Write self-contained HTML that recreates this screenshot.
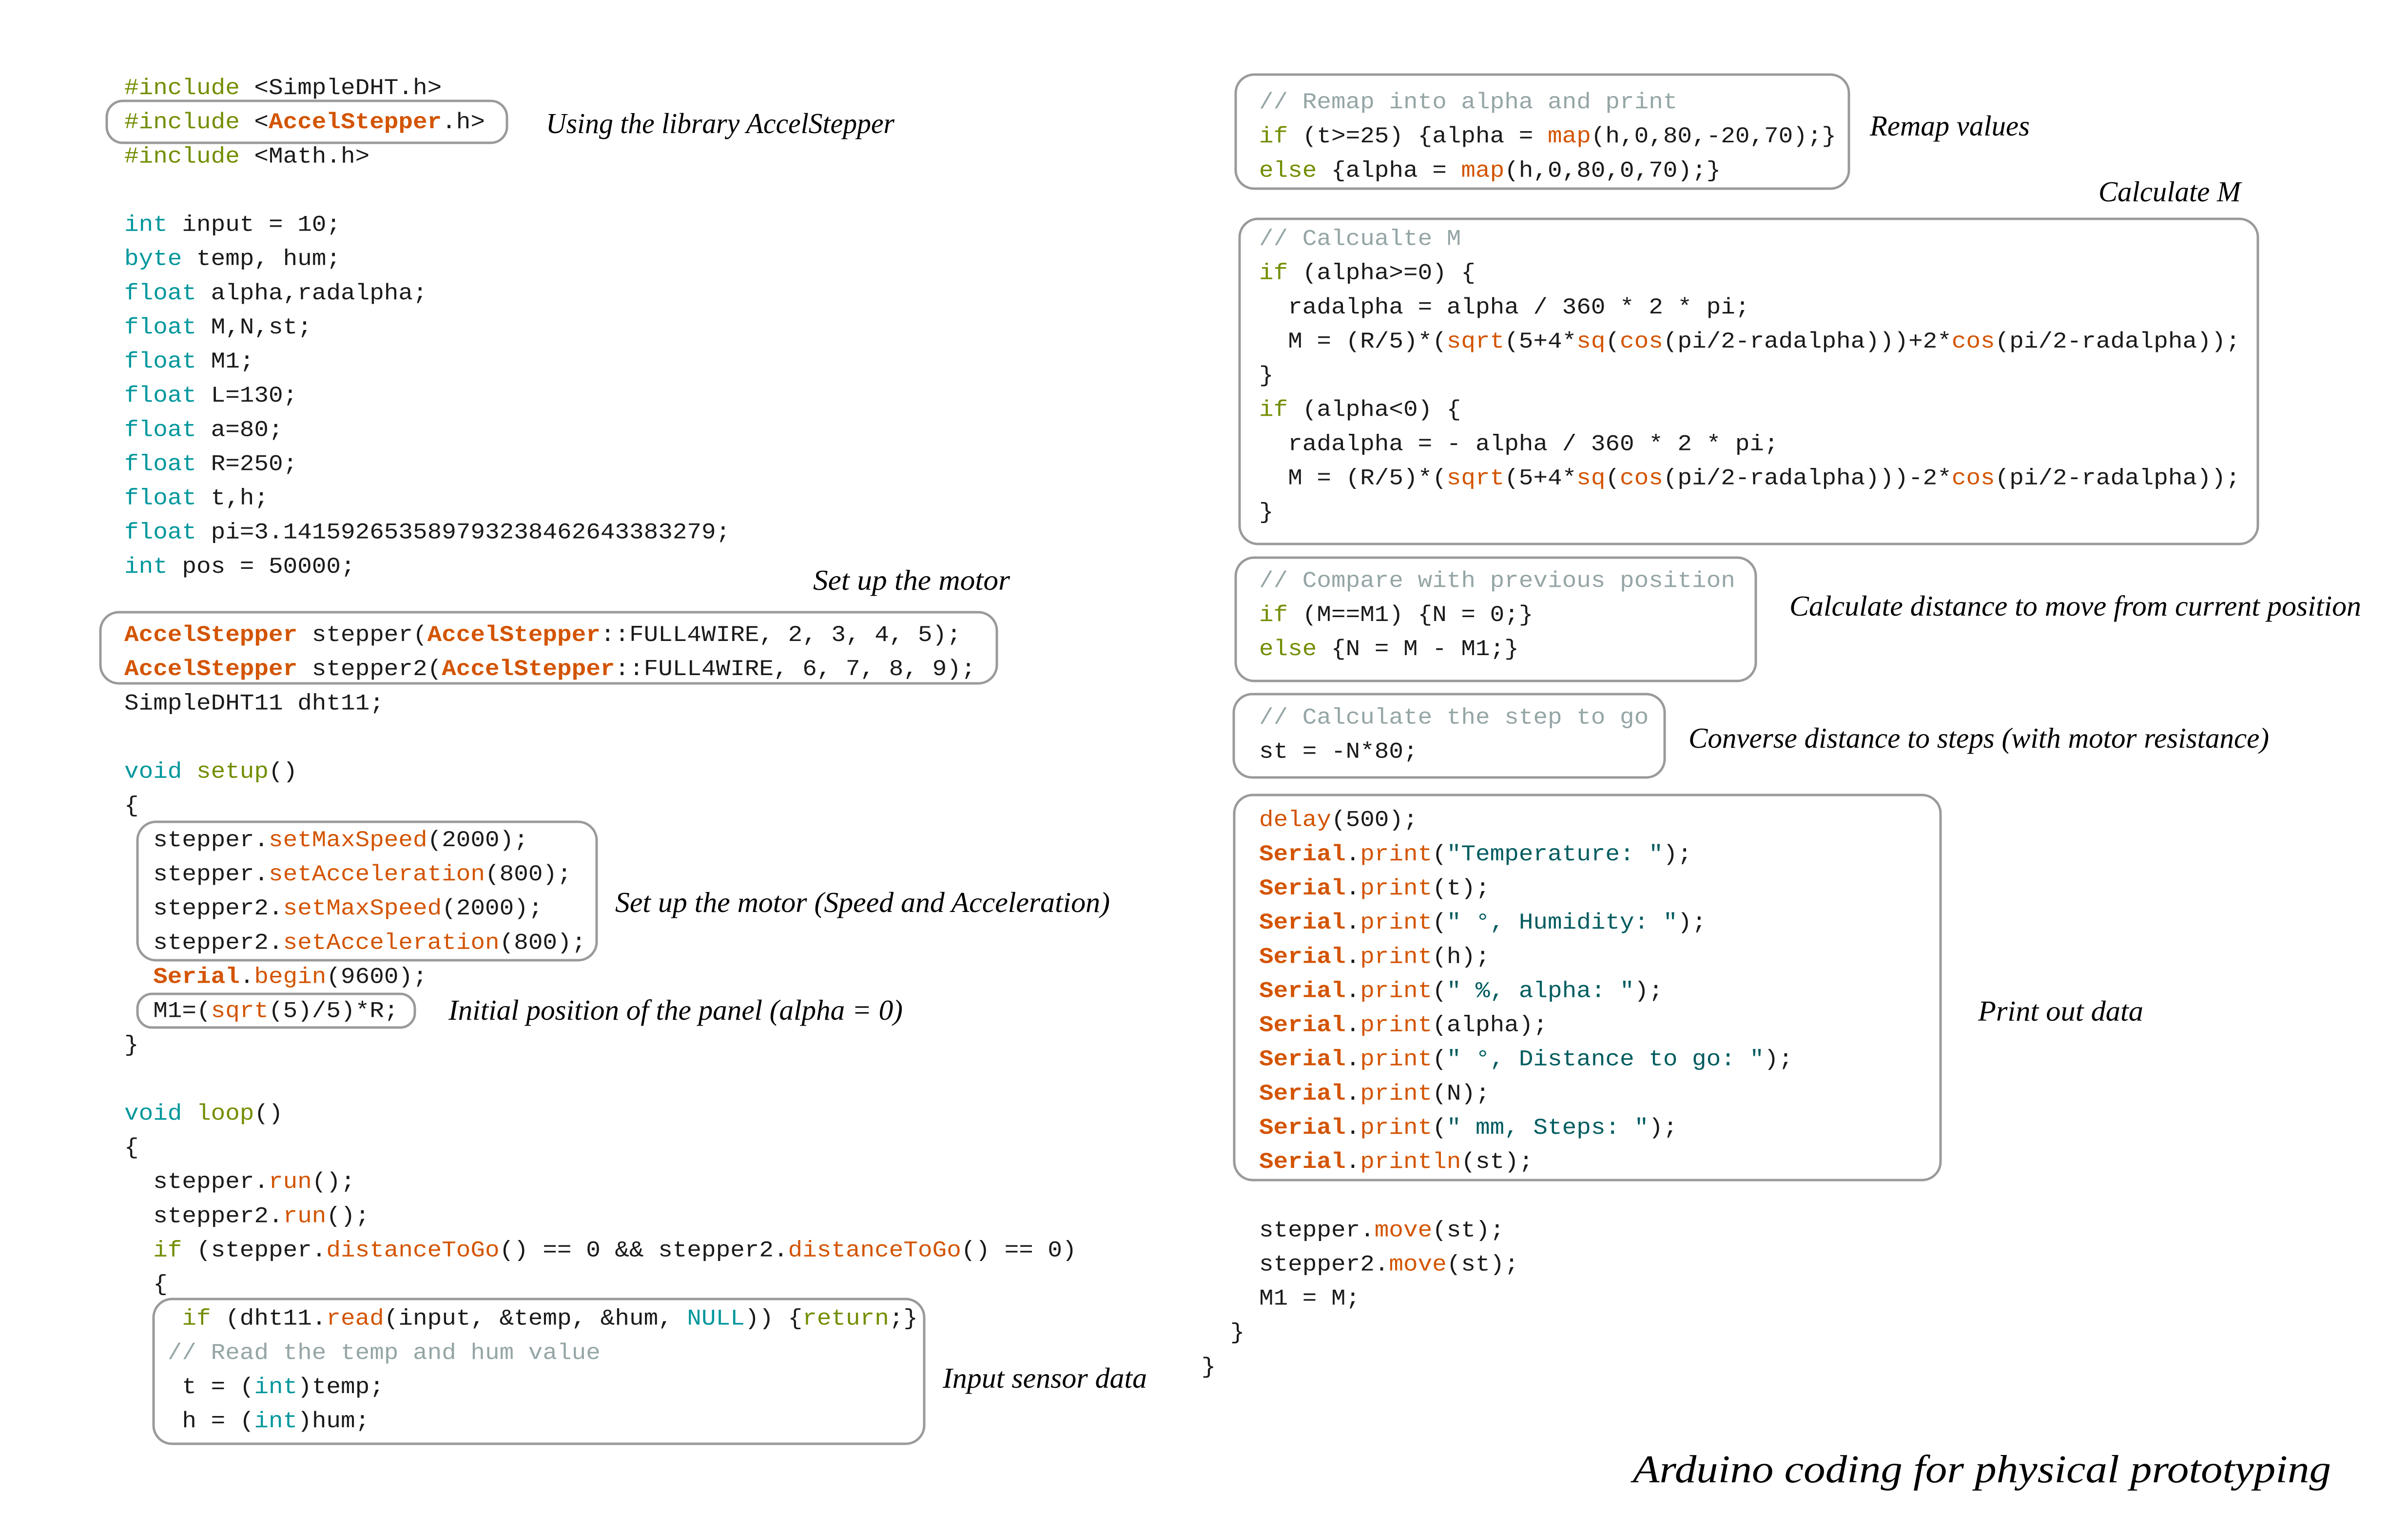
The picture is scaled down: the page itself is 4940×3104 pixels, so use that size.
<!DOCTYPE html>
<html>
<head>
<meta charset="utf-8">
<style>
  html, body { margin:0; padding:0; background:#ffffff; }
  body { width:4940px; height:3104px; overflow:hidden; position:relative; }
  svg { position:absolute; left:0; top:0; }
  text { white-space: pre; }
  .c { font-family: "Liberation Mono", "Courier New", monospace; font-size:46px; fill:#1a1a1a; }
  .o { fill:#728E00; }
  .t { fill:#00979C; }
  .r { fill:#D35400; }
  .b { fill:#D35400; font-weight:bold; }
  .g { fill:#95A5A6; }
  .s { fill:#005C5F; }
  .lab { font-family: "Liberation Serif", serif; font-style: italic; font-size:59px; fill:#000000; }
  .ttl { font-family: "Liberation Serif", serif; font-style: italic; font-size:81px; fill:#000000; }
  .box { fill:none; stroke:#9a9a9a; stroke-width:5; }
</style>
</head>
<body>
<svg width="4940" height="3104" viewBox="0 0 4940 3104" xmlns="http://www.w3.org/2000/svg" xml:space="preserve">
<rect x="0" y="0" width="4940" height="3104" fill="#ffffff"/>

<!-- Boxes -->
<rect class="box" x="219" y="207" width="821" height="86" rx="33" ry="33"/>
<rect class="box" x="206" y="1256" width="1839" height="146" rx="38" ry="38"/>
<rect class="box" x="282" y="1686" width="942" height="284" rx="38" ry="38"/>
<rect class="box" x="282" y="2039" width="569" height="69" rx="30" ry="30"/>
<rect class="box" x="315" y="2665" width="1581" height="297" rx="38" ry="38"/>
<rect class="box" x="2535" y="153" width="1258" height="234" rx="38" ry="38"/>
<rect class="box" x="2543" y="449" width="2089" height="667" rx="38" ry="38"/>
<rect class="box" x="2535" y="1144" width="1067" height="253" rx="38" ry="38"/>
<rect class="box" x="2531" y="1424" width="884" height="171" rx="38" ry="38"/>
<rect class="box" x="2532" y="1631" width="1449" height="790" rx="38" ry="38"/>

<!-- Left column code -->
<g class="c" transform="translate(255 0) scale(1.0725 1)">
<text x="0" y="193"><tspan class="o">#include</tspan> &lt;SimpleDHT.h&gt;</text>
<text x="0" y="263.1"><tspan class="o">#include</tspan> &lt;<tspan class="b">AccelStepper</tspan>.h&gt;</text>
<text x="0" y="333.3"><tspan class="o">#include</tspan> &lt;Math.h&gt;</text>
<text x="0" y="473.5"><tspan class="t">int</tspan> input = 10;</text>
<text x="0" y="543.7"><tspan class="t">byte</tspan> temp, hum;</text>
<text x="0" y="613.8"><tspan class="t">float</tspan> alpha,radalpha;</text>
<text x="0" y="683.9"><tspan class="t">float</tspan> M,N,st;</text>
<text x="0" y="754"><tspan class="t">float</tspan> M1;</text>
<text x="0" y="824.2"><tspan class="t">float</tspan> L=130;</text>
<text x="0" y="894.3"><tspan class="t">float</tspan> a=80;</text>
<text x="0" y="964.4"><tspan class="t">float</tspan> R=250;</text>
<text x="0" y="1034.6"><tspan class="t">float</tspan> t,h;</text>
<text x="0" y="1104.7"><tspan class="t">float</tspan> pi=3.141592653589793238462643383279;</text>
<text x="0" y="1174.8"><tspan class="t">int</tspan> pos = 50000;</text>
<text x="0" y="1315.1"><tspan class="b">AccelStepper</tspan> stepper(<tspan class="b">AccelStepper</tspan>::FULL4WIRE, 2, 3, 4, 5);</text>
<text x="0" y="1385.2"><tspan class="b">AccelStepper</tspan> stepper2(<tspan class="b">AccelStepper</tspan>::FULL4WIRE, 6, 7, 8, 9);</text>
<text x="0" y="1455.3">SimpleDHT11 dht11;</text>
<text x="0" y="1595.6"><tspan class="t">void</tspan> <tspan class="o">setup</tspan>()</text>
<text x="0" y="1665.7">{</text>
<text x="0" y="1735.9">  stepper.<tspan class="r">setMaxSpeed</tspan>(2000);</text>
<text x="0" y="1806">  stepper.<tspan class="r">setAcceleration</tspan>(800);</text>
<text x="0" y="1876.1">  stepper2.<tspan class="r">setMaxSpeed</tspan>(2000);</text>
<text x="0" y="1946.3">  stepper2.<tspan class="r">setAcceleration</tspan>(800);</text>
<text x="0" y="2016.4">  <tspan class="b">Serial</tspan>.<tspan class="r">begin</tspan>(9600);</text>
<text x="0" y="2086.5">  M1=(<tspan class="r">sqrt</tspan>(5)/5)*R;</text>
<text x="0" y="2156.6">}</text>
<text x="0" y="2296.9"><tspan class="t">void</tspan> <tspan class="o">loop</tspan>()</text>
<text x="0" y="2367">{</text>
<text x="0" y="2437.2">  stepper.<tspan class="r">run</tspan>();</text>
<text x="0" y="2507.3">  stepper2.<tspan class="r">run</tspan>();</text>
<text x="0" y="2577.4">  <tspan class="o">if</tspan> (stepper.<tspan class="r">distanceToGo</tspan>() == 0 &amp;&amp; stepper2.<tspan class="r">distanceToGo</tspan>() == 0)</text>
<text x="0" y="2647.6">  {</text>
<text x="0" y="2717.7">    <tspan class="o">if</tspan> (dht11.<tspan class="r">read</tspan>(input, &amp;temp, &amp;hum, <tspan class="t">NULL</tspan>)) {<tspan class="o">return</tspan>;}</text>
<text x="0" y="2787.8">   <tspan class="g">// Read the temp and hum value</tspan></text>
<text x="0" y="2858">    t = (<tspan class="t">int</tspan>)temp;</text>
<text x="0" y="2928.1">    h = (<tspan class="t">int</tspan>)hum;</text>
</g>

<!-- Right column code -->
<g class="c" transform="translate(2583 0) scale(1.0725 1)">
<text x="0" y="222"><tspan class="g">// Remap into alpha and print</tspan></text>
<text x="0" y="292.1"><tspan class="o">if</tspan> (t&gt;=25) {alpha = <tspan class="r">map</tspan>(h,0,80,-20,70);}</text>
<text x="0" y="362.3"><tspan class="o">else</tspan> {alpha = <tspan class="r">map</tspan>(h,0,80,0,70);}</text>
<text x="0" y="502.5"><tspan class="g">// Calcualte M</tspan></text>
<text x="0" y="572.7"><tspan class="o">if</tspan> (alpha&gt;=0) {</text>
<text x="0" y="642.8">  radalpha = alpha / 360 * 2 * pi;</text>
<text x="0" y="712.9">  M = (R/5)*(<tspan class="r">sqrt</tspan>(5+4*<tspan class="r">sq</tspan>(<tspan class="r">cos</tspan>(pi/2-radalpha)))+2*<tspan class="r">cos</tspan>(pi/2-radalpha));</text>
<text x="0" y="783">}</text>
<text x="0" y="853.2"><tspan class="o">if</tspan> (alpha&lt;0) {</text>
<text x="0" y="923.3">  radalpha = - alpha / 360 * 2 * pi;</text>
<text x="0" y="993.4">  M = (R/5)*(<tspan class="r">sqrt</tspan>(5+4*<tspan class="r">sq</tspan>(<tspan class="r">cos</tspan>(pi/2-radalpha)))-2*<tspan class="r">cos</tspan>(pi/2-radalpha));</text>
<text x="0" y="1063.6">}</text>
<text x="0" y="1203.8"><tspan class="g">// Compare with previous position</tspan></text>
<text x="0" y="1274"><tspan class="o">if</tspan> (M==M1) {N = 0;}</text>
<text x="0" y="1344.1"><tspan class="o">else</tspan> {N = M - M1;}</text>
<text x="0" y="1484.3"><tspan class="g">// Calculate the step to go</tspan></text>
<text x="0" y="1554.5">st = -N*80;</text>
<text x="0" y="1694.7"><tspan class="r">delay</tspan>(500);</text>
<text x="0" y="1764.9"><tspan class="b">Serial</tspan>.<tspan class="r">print</tspan>(<tspan class="s">"Temperature: "</tspan>);</text>
<text x="0" y="1835"><tspan class="b">Serial</tspan>.<tspan class="r">print</tspan>(t);</text>
<text x="0" y="1905.1"><tspan class="b">Serial</tspan>.<tspan class="r">print</tspan>(<tspan class="s">" °, Humidity: "</tspan>);</text>
<text x="0" y="1975.3"><tspan class="b">Serial</tspan>.<tspan class="r">print</tspan>(h);</text>
<text x="0" y="2045.4"><tspan class="b">Serial</tspan>.<tspan class="r">print</tspan>(<tspan class="s">" %, alpha: "</tspan>);</text>
<text x="0" y="2115.5"><tspan class="b">Serial</tspan>.<tspan class="r">print</tspan>(alpha);</text>
<text x="0" y="2185.6"><tspan class="b">Serial</tspan>.<tspan class="r">print</tspan>(<tspan class="s">" °, Distance to go: "</tspan>);</text>
<text x="0" y="2255.8"><tspan class="b">Serial</tspan>.<tspan class="r">print</tspan>(N);</text>
<text x="0" y="2325.9"><tspan class="b">Serial</tspan>.<tspan class="r">print</tspan>(<tspan class="s">" mm, Steps: "</tspan>);</text>
<text x="0" y="2396"><tspan class="b">Serial</tspan>.<tspan class="r">println</tspan>(st);</text>
<text x="0" y="2536.3">stepper.<tspan class="r">move</tspan>(st);</text>
<text x="0" y="2606.4">stepper2.<tspan class="r">move</tspan>(st);</text>
<text x="0" y="2676.6">M1 = M;</text>
<text x="-55.2" y="2746.7">}</text>
<text x="-110.4" y="2816.8">}</text>
</g>

<!-- Labels -->
<text class="lab" x="1120" y="273" textLength="715" lengthAdjust="spacingAndGlyphs">Using the library AccelStepper</text>
<text class="lab" x="1668" y="1210" textLength="404" lengthAdjust="spacingAndGlyphs">Set up the motor</text>
<text class="lab" x="1262" y="1871" textLength="1015" lengthAdjust="spacingAndGlyphs">Set up the motor (Speed and Acceleration)</text>
<text class="lab" x="920" y="2092" textLength="932" lengthAdjust="spacingAndGlyphs">Initial position of the panel (alpha = 0)</text>
<text class="lab" x="1934" y="2847" textLength="419" lengthAdjust="spacingAndGlyphs">Input sensor data</text>
<text class="lab" x="3836" y="278" textLength="328" lengthAdjust="spacingAndGlyphs">Remap values</text>
<text class="lab" x="4305" y="413" textLength="292" lengthAdjust="spacingAndGlyphs">Calculate M</text>
<text class="lab" x="3671" y="1263" textLength="1173" lengthAdjust="spacingAndGlyphs">Calculate distance to move from current position</text>
<text class="lab" x="3464" y="1534" textLength="1191" lengthAdjust="spacingAndGlyphs">Converse distance to steps (with motor resistance)</text>
<text class="lab" x="4058" y="2094" textLength="339" lengthAdjust="spacingAndGlyphs">Print out data</text>
<text class="ttl" x="3350" y="3041" textLength="1432" lengthAdjust="spacingAndGlyphs">Arduino coding for physical prototyping</text>
</svg>
</body>
</html>
